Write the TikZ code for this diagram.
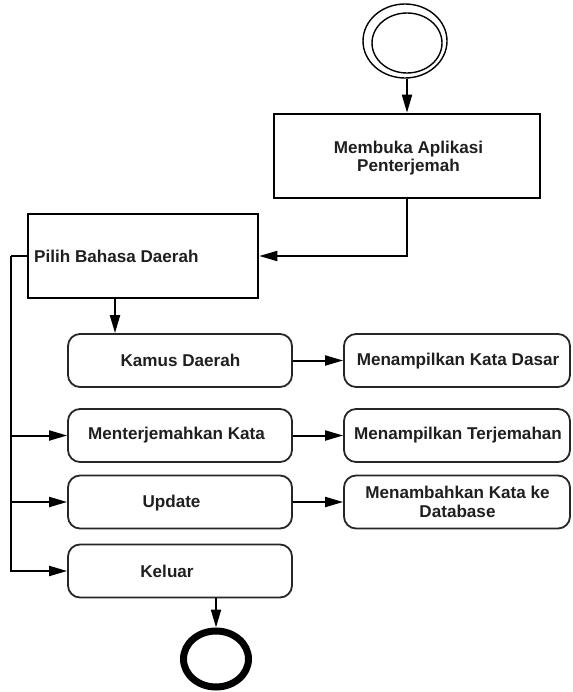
\documentclass[tikz,border=0pt]{standalone}
\usepackage{fontspec}
\setmainfont{Liberation Sans}
\usetikzlibrary{arrows.meta,shapes.geometric}

\begin{document}
\begin{tikzpicture}[
  x=1pt, y=-1pt,
  txt/.style={font=\fontsize{17.1}{18.5}\selectfont\bfseries, text=black!88, align=center, inner sep=0pt},
  sqbox/.style={draw=black, line width=2.6pt, minimum width=#1, minimum height=84pt, inner sep=0pt},
  rbox/.style={draw=black!85, line width=1.8pt, rounded corners=12pt, minimum height=53pt, inner sep=0pt},
  lbox/.style={rbox, minimum width=224pt},
  ribox/.style={rbox, minimum width=226pt},
  arr/.style={draw=black, line width=2pt, -{Triangle[length=18pt,width=10pt]}},
]
\useasboundingbox (0,0) rectangle (572,692);

% initial and final states
\node[ellipse, draw, line width=1.4pt, minimum width=84pt, minimum height=74pt, inner sep=0pt] (start) at (405,41) {};
\draw[line width=1.4pt] (407,43) ellipse [x radius=35, y radius=30];
\node[ellipse, draw, line width=7pt, minimum width=65pt, minimum height=56pt, inner sep=0pt] (final) at (216,659) {};

% square activities
\node[sqbox=266pt] (membuka) at (407,156) {};
\node[txt] at (408.5,158) {Membuka Aplikasi\\Penterjemah};
\node[sqbox=230pt] (pilih) at (143,256) {};
\node[txt, anchor=west] at (34,256) {Pilih Bahasa Daerah};

% menu activities
\node[lbox] (kamus) at (180,360.5) {};
\node[txt] at (180.5,360) {Kamus Daerah};
\node[lbox] (terjemah) at (180,435.5) {};
\node[txt] at (176.5,435.5) {Menterjemahkan Kata};
\node[lbox] (update) at (180,502) {};
\node[txt] at (171.5,503) {Update};
\node[lbox] (keluar) at (180,571) {};
\node[txt] at (167,571) {Keluar};

% results
\node[ribox] (dasar) at (457,360.5) {};
\node[txt] at (458,361) {Menampilkan Kata Dasar};
\node[ribox] (hasil) at (457,435.5) {};
\node[txt] at (458,435.5) {Menampilkan Terjemahan};
\node[ribox] (tambah) at (457,502) {};
\node[txt] at (457.5,502) {Menambahkan Kata ke\\Database};

% flow
\coordinate (bus) at (11,256);
\coordinate (drop) at (115,300);

\draw[arr] (start.south -| membuka.north) -- (membuka.north);
\draw[arr] (membuka.south) |- (pilih.east);
\draw[arr] (pilih.south -| drop) -- (kamus.north -| drop);
\draw[line width=2pt] (pilih.west) -- (bus);
\draw[arr] (bus) |- (keluar.west);
\draw[arr] (bus |- terjemah.west) -- (terjemah.west);
\draw[arr] (bus |- update.west) -- (update.west);
\draw[arr] (keluar.south -| final.north) -- (final.north);

\draw[arr] (kamus.east) -- (dasar.west);
\draw[arr] (terjemah.east) -- (hasil.west);
\draw[arr] (update.east) -- (tambah.west);
\end{tikzpicture}
\end{document}
